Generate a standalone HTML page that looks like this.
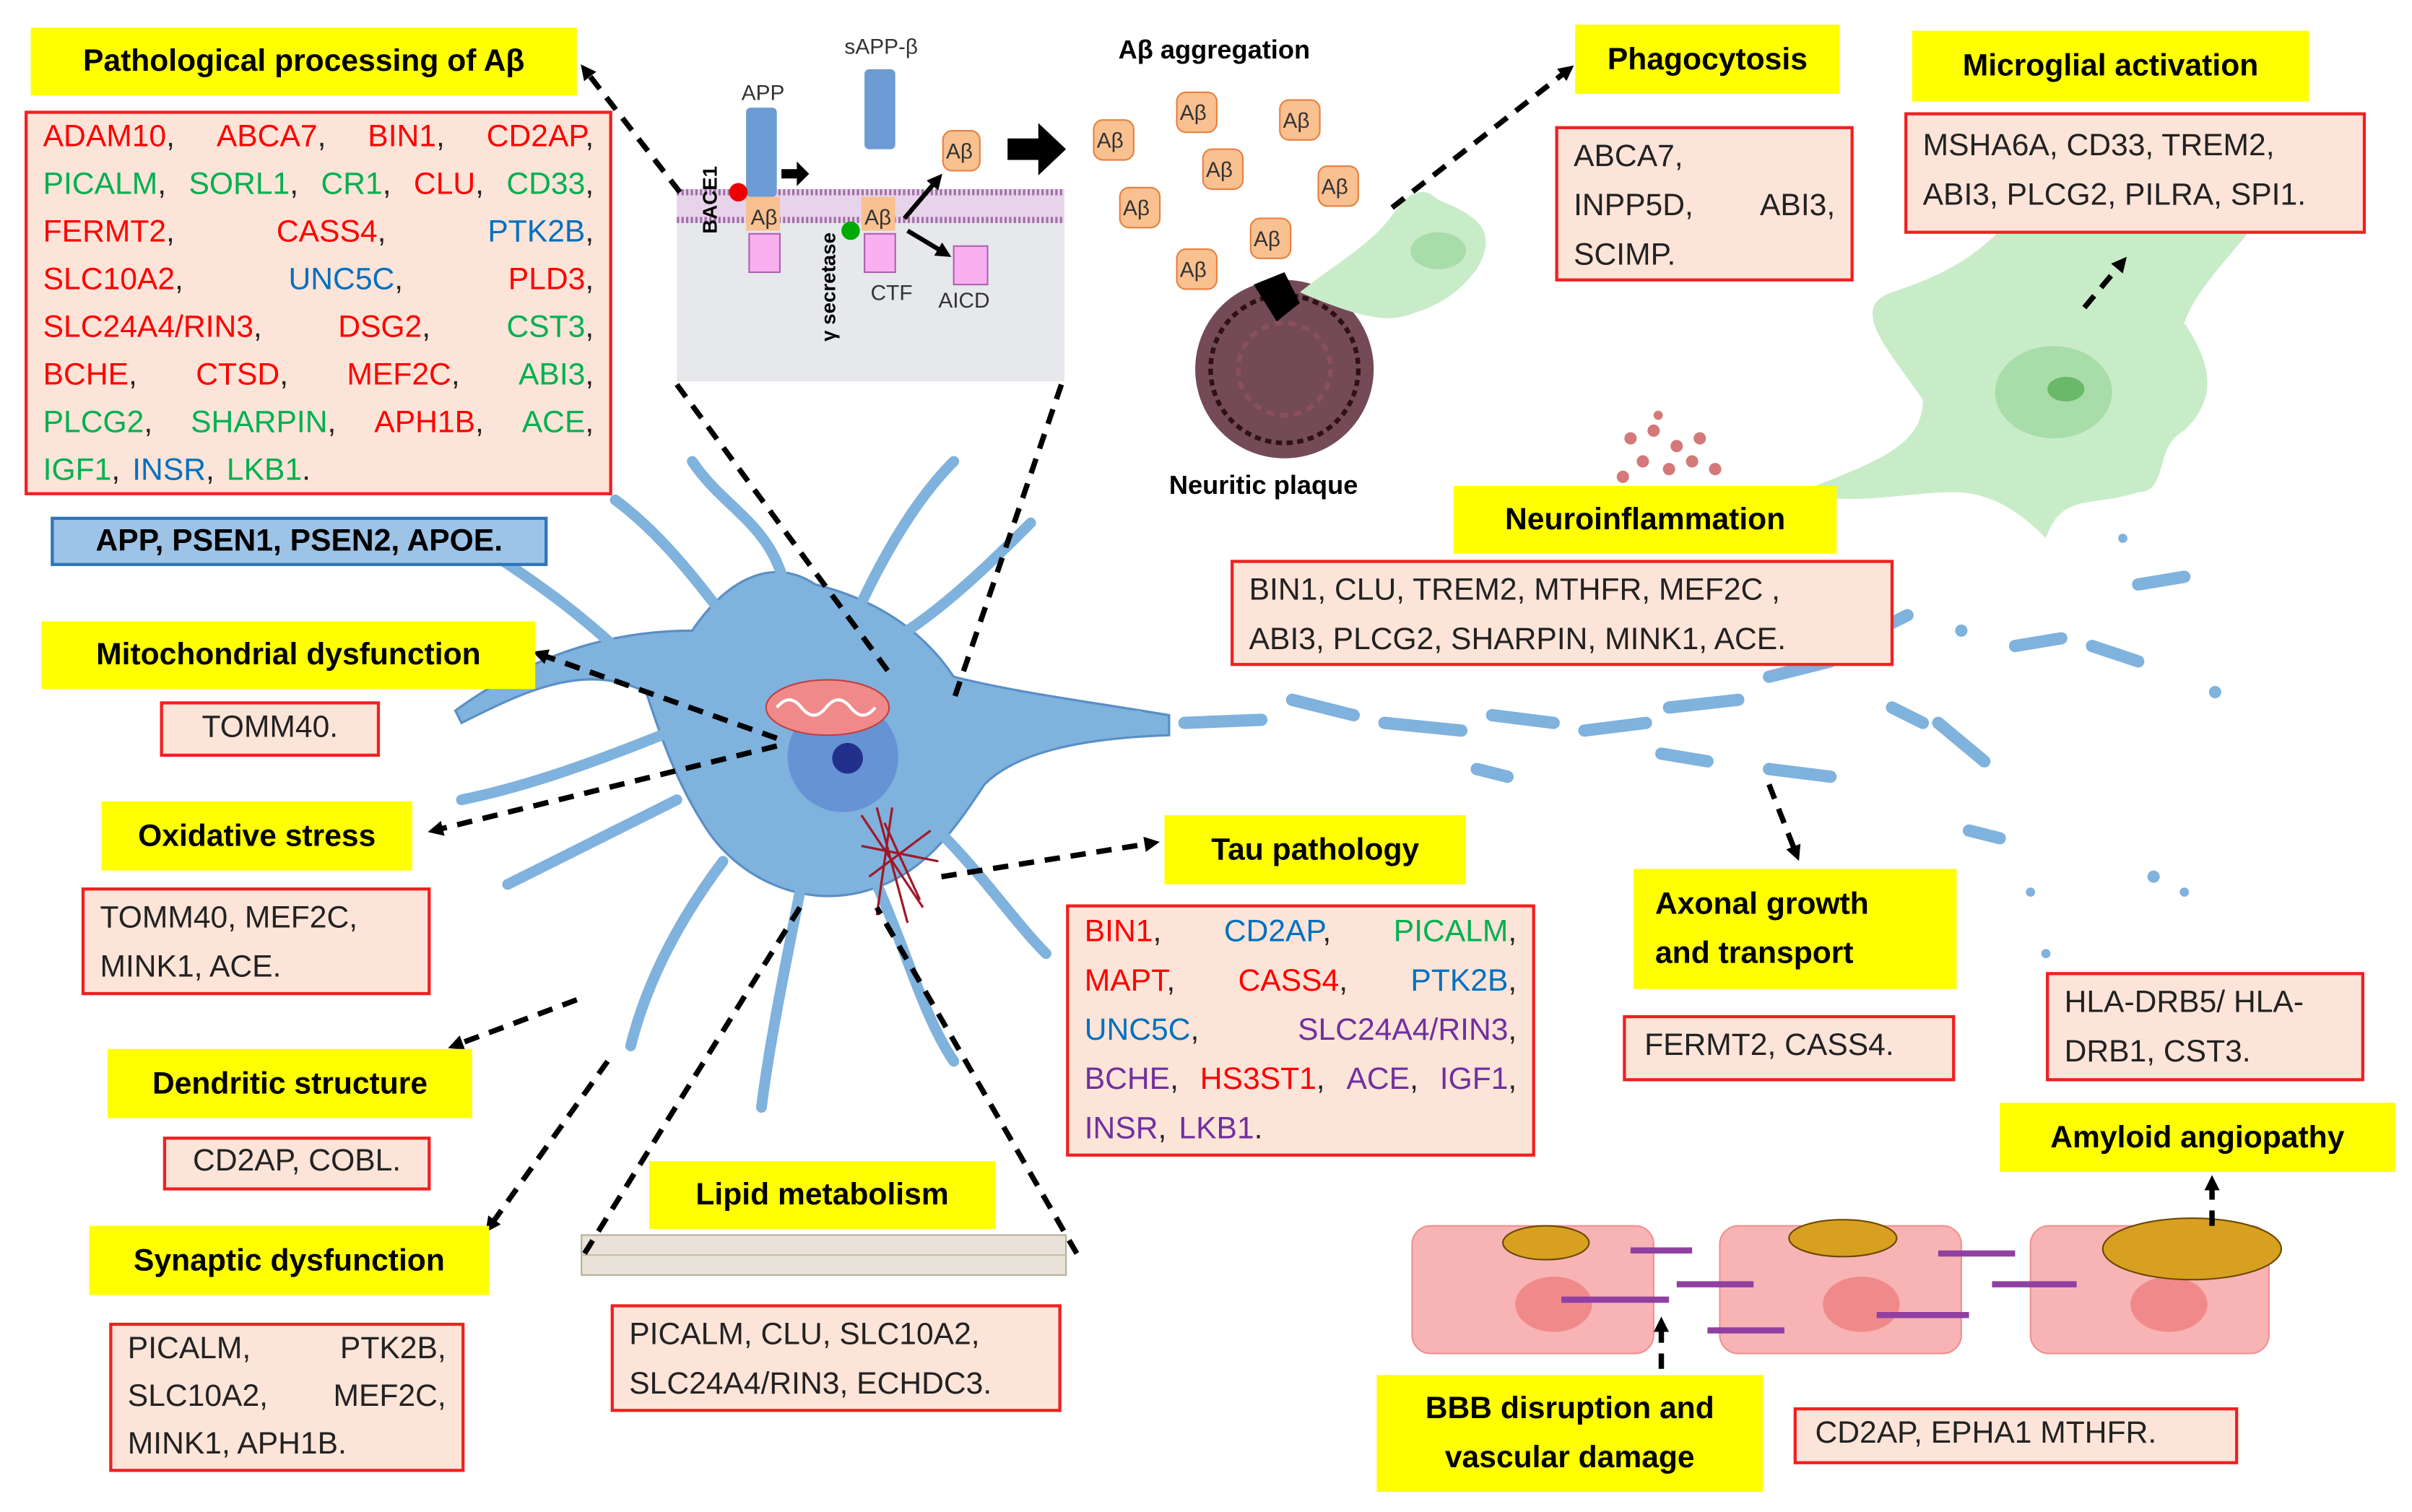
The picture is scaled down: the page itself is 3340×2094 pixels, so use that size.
<!DOCTYPE html>
<html><head><meta charset="utf-8">
<style>
html,body{margin:0;padding:0;background:#fff;}
body{width:3340px;height:2094px;overflow:hidden;position:relative;}
#w{position:absolute;left:0;top:0;width:1568px;height:983px;transform:scale(2.13010);transform-origin:0 0;font-family:"Liberation Sans",sans-serif;}
.y{position:absolute;background:#ffff00;font-weight:bold;font-size:20px;color:#000;display:flex;align-items:center;justify-content:center;text-align:center;line-height:32px;}
.b{position:absolute;background:#fde4d8;border:2px solid #f02020;box-sizing:border-box;font-size:20px;color:#222;padding:4px 10px;line-height:32px;}
.l{display:flex;justify-content:space-between;white-space:nowrap;}
.l.s{justify-content:flex-start;gap:8px;}
.r{color:#ff0000}.g{color:#00b050}.u{color:#0070c0}.p{color:#7030a0}
svg{position:absolute;left:0;top:0;}
</style></head><body><div id="w">
<svg width="1568" height="983" viewBox="0 0 1568 983">
<defs>
<marker id="a" markerWidth="10" markerHeight="10" refX="6" refY="5" orient="auto" markerUnits="userSpaceOnUse"><path d="M0,0 L10,5 L0,10 Z" fill="#000"/></marker>
</defs>
<rect x="440" y="125" width="252" height="123" fill="#e6e8ec"/>
<rect x="440" y="123" width="252" height="22" fill="#e8d4ea"/>
<line x1="440" y1="125" x2="692" y2="125" stroke="#a070a8" stroke-width="4" stroke-dasharray="1.5 1.5"/>
<line x1="440" y1="143" x2="692" y2="143" stroke="#a070a8" stroke-width="4" stroke-dasharray="1.5 1.5"/>
<rect x="485" y="70" width="20" height="58" fill="#6d9bd3" rx="3"/>
<rect x="562" y="45" width="20" height="52" fill="#6d9bd3" rx="3"/>
<rect x="485" y="128" width="22" height="22" fill="#f9c090"/>
<rect x="487" y="152" width="20" height="25" fill="#f9b0f0" stroke="#b060b0"/>
<rect x="560" y="128" width="22" height="22" fill="#f9c090"/>
<rect x="562" y="152" width="20" height="25" fill="#f9b0f0" stroke="#b060b0"/>
<rect x="620" y="160" width="22" height="25" fill="#f9b0f0" stroke="#b060b0"/>
<circle cx="480" cy="125" r="6" fill="#e00"/><circle cx="553" cy="150" r="6" fill="#0a0"/>
<path d="M508,110 h10 v-5 l8,8 l-8,8 v-5 h-10 z" fill="#000"/>
<line x1="588" y1="142" x2="610" y2="116" stroke="#000" stroke-width="3" marker-end="url(#a)"/>
<line x1="590" y1="150" x2="615" y2="165" stroke="#000" stroke-width="3" marker-end="url(#a)"/>
<path d="M655,90 h20 v-10 l18,17 l-18,17 v-10 h-20 z" fill="#000"/>
<text x="482" y="65" font-size="14" fill="#333">APP</text>
<text x="549" y="35" font-size="14" fill="#333">sAPP-β</text>
<text x="488" y="146" font-size="14" fill="#333">Aβ</text>
<text x="562" y="146" font-size="14" fill="#333">Aβ</text>
<text x="566" y="195" font-size="14" fill="#333">CTF</text>
<text x="610" y="200" font-size="14" fill="#333">AICD</text>
<text transform="translate(466,152) rotate(-90)" font-size="13" font-weight="bold">BACE1</text>
<text transform="translate(543,222) rotate(-90)" font-size="13" font-weight="bold">γ secretase</text>
<text x="727" y="38" font-size="17" font-weight="bold">Aβ aggregation</text>
<g font-size="14" fill="#333">
<g><rect x="613" y="85" width="24" height="26" rx="6" fill="#f9c090" stroke="#e88040"/><text x="615" y="103">Aβ</text></g>
<g><rect x="711" y="78" width="26" height="26" rx="6" fill="#f9c090" stroke="#e88040"/><text x="713" y="96">Aβ</text></g>
<g><rect x="765" y="60" width="26" height="26" rx="6" fill="#f9c090" stroke="#e88040"/><text x="767" y="78">Aβ</text></g>
<g><rect x="832" y="65" width="26" height="26" rx="6" fill="#f9c090" stroke="#e88040"/><text x="834" y="83">Aβ</text></g>
<g><rect x="782" y="97" width="26" height="26" rx="6" fill="#f9c090" stroke="#e88040"/><text x="784" y="115">Aβ</text></g>
<g><rect x="857" y="108" width="26" height="26" rx="6" fill="#f9c090" stroke="#e88040"/><text x="859" y="126">Aβ</text></g>
<g><rect x="728" y="122" width="26" height="26" rx="6" fill="#f9c090" stroke="#e88040"/><text x="730" y="140">Aβ</text></g>
<g><rect x="813" y="142" width="26" height="26" rx="6" fill="#f9c090" stroke="#e88040"/><text x="815" y="160">Aβ</text></g>
<g><rect x="765" y="162" width="26" height="26" rx="6" fill="#f9c090" stroke="#e88040"/><text x="767" y="180">Aβ</text></g>
</g>
<circle cx="835" cy="240" r="58" fill="#5a2a38" opacity="0.85"/>
<circle cx="835" cy="240" r="48" fill="none" stroke="#2e1018" stroke-width="3" stroke-dasharray="4 3"/>
<circle cx="835" cy="240" r="30" fill="none" stroke="#8a5060" stroke-width="3" stroke-dasharray="5 4"/>
<path d="M815,185 l20,-8 l10,20 l-15,12 z" fill="#000"/>
<text x="760" y="321" font-size="17" font-weight="bold">Neuritic plaque</text>
<path d="M845,190 C870,170 890,160 905,140 C915,125 925,120 935,130 C960,140 975,150 960,175 C945,195 930,200 915,205 C900,210 880,205 845,190 Z" fill="#c8ecc8"/>
<ellipse cx="935" cy="163" rx="18" ry="12" fill="#a8dca8"/>
<path d="M1170,320 C1220,300 1250,290 1250,260 C1230,230 1200,200 1230,190 C1260,180 1280,170 1300,150 C1320,140 1360,150 1400,140 C1430,130 1460,120 1490,110 C1470,150 1430,180 1420,210 C1440,240 1440,260 1420,280 C1400,290 1410,320 1390,320 C1360,330 1340,320 1330,350 C1320,340 1300,320 1270,320 C1240,320 1200,330 1170,320 Z" fill="#c8ecc8"/>
<ellipse cx="1335" cy="255" rx="38" ry="30" fill="#a8dca8"/>
<ellipse cx="1343" cy="253" rx="12" ry="8" fill="#6ab86a"/>
<g fill="#c04040" opacity="0.7"><circle cx="1060" cy="285" r="4"/><circle cx="1075" cy="280" r="4"/><circle cx="1090" cy="290" r="4"/><circle cx="1105" cy="285" r="4"/><circle cx="1068" cy="300" r="4"/><circle cx="1085" cy="305" r="4"/><circle cx="1100" cy="300" r="4"/><circle cx="1115" cy="305" r="4"/><circle cx="1055" cy="310" r="4"/><circle cx="1078" cy="270" r="3"/></g>
<g fill="#7fb2dd" stroke="#5a8fc6" stroke-width="1.5">
<path d="M450,410 C470,380 500,360 530,380 C570,390 600,410 620,440 C660,450 700,455 760,465 L760,478 C700,480 660,490 640,510 C620,540 600,570 560,580 C520,590 480,570 460,540 C440,510 430,480 420,450 C380,430 340,450 300,470 L296,462 C340,430 390,410 450,410 Z"/>
</g>
<g stroke="#7fb2dd" stroke-width="7" fill="none" stroke-linecap="round">
<path d="M470,400 C440,360 420,340 400,325"/><path d="M510,380 C500,340 470,330 450,300"/><path d="M560,392 C580,350 600,320 620,300"/>
<path d="M590,410 C620,390 650,360 670,340"/><path d="M470,560 C440,600 420,640 410,680"/><path d="M520,580 C510,630 500,680 495,720"/>
<path d="M570,575 C590,620 600,660 620,690"/><path d="M610,540 C640,570 660,600 680,620"/><path d="M440,520 C400,540 360,560 330,575"/>
<path d="M450,470 C400,490 350,510 300,520"/><path d="M420,440 C380,400 350,380 320,360"/>
</g>
<circle cx="548" cy="492" r="36" fill="#5a86d0" opacity="0.7"/>
<circle cx="551" cy="493" r="10" fill="#22308c"/>
<ellipse cx="538" cy="460" rx="40" ry="18" fill="#f08a8a" stroke="#c04040"/>
<path d="M505,460 q8,-10 16,0 q8,10 16,0 q8,-10 16,0 q8,10 16,0" stroke="#fff" stroke-width="2" fill="none"/>
<g stroke="#a01828" stroke-width="1.5"><path d="M560,530 L600,590 M570,525 L590,600 M580,525 L570,595 M560,550 L610,560 M565,570 L605,540 M575,535 L598,585"/></g>
<g stroke="#7fb2dd" stroke-width="8" stroke-linecap="round">
<line x1="700" y1="468" x2="740" y2="466"/><line x1="770" y1="470" x2="820" y2="468"/><line x1="840" y1="455" x2="880" y2="465"/><line x1="900" y1="470" x2="950" y2="475"/><line x1="970" y1="465" x2="1010" y2="470"/><line x1="1030" y1="475" x2="1070" y2="470"/><line x1="1085" y1="460" x2="1130" y2="455"/><line x1="1150" y1="440" x2="1190" y2="430"/><line x1="1150" y1="500" x2="1190" y2="505"/><line x1="1080" y1="490" x2="1110" y2="495"/><line x1="1200" y1="420" x2="1240" y2="400"/><line x1="1260" y1="470" x2="1290" y2="495"/><line x1="1310" y1="420" x2="1340" y2="415"/><line x1="1360" y1="420" x2="1390" y2="430"/><line x1="1390" y1="380" x2="1420" y2="375"/><line x1="1280" y1="540" x2="1300" y2="545"/><line x1="1230" y1="460" x2="1250" y2="470"/><line x1="820" y1="420" x2="850" y2="415"/><line x1="960" y1="500" x2="980" y2="505"/>
</g>
<g fill="#7fb2dd"><circle cx="1275" cy="410" r="4"/><circle cx="1330" cy="620" r="3"/><circle cx="1320" cy="580" r="3"/><circle cx="1400" cy="570" r="4"/><circle cx="1420" cy="580" r="3"/><circle cx="1440" cy="450" r="4"/><circle cx="1380" cy="350" r="3"/></g>
<rect x="378" y="803" width="315" height="26" fill="#e8e2d8" stroke="#b8ae9a"/>
<line x1="378" y1="816" x2="693" y2="816" stroke="#c8bea8"/>
<g fill="#f8b4b4" stroke="#f09090"><rect x="918" y="797" width="157" height="83" rx="12"/><rect x="1118" y="797" width="157" height="83" rx="12"/><rect x="1320" y="797" width="155" height="83" rx="12"/></g>
<g fill="#f08a8a"><ellipse cx="1010" cy="848" rx="25" ry="18"/><ellipse cx="1210" cy="848" rx="25" ry="18"/><ellipse cx="1410" cy="848" rx="25" ry="18"/></g>
<g stroke="#9040a0" stroke-width="4"><line x1="1060" y1="813" x2="1100" y2="813"/><line x1="1015" y1="845" x2="1085" y2="845"/><line x1="1090" y1="835" x2="1140" y2="835"/><line x1="1110" y1="865" x2="1160" y2="865"/><line x1="1260" y1="815" x2="1310" y2="815"/><line x1="1220" y1="855" x2="1280" y2="855"/><line x1="1295" y1="835" x2="1350" y2="835"/></g>
<g fill="#d8a020" stroke="#6a4a00"><ellipse cx="1005" cy="808" rx="28" ry="11"/><ellipse cx="1198" cy="805" rx="35" ry="12"/><ellipse cx="1425" cy="812" rx="58" ry="20"/></g>
<g stroke="#000" stroke-width="3.5" stroke-dasharray="10 7" fill="none">
<line x1="442" y1="125" x2="380" y2="45" marker-end="url(#a)"/>
<line x1="905" y1="135" x2="1020" y2="45" marker-end="url(#a)"/>
<line x1="1355" y1="200" x2="1380" y2="170" marker-end="url(#a)"/>
<line x1="505" y1="480" x2="350" y2="425" marker-end="url(#a)"/>
<line x1="505" y1="485" x2="282" y2="540" marker-end="url(#a)"/>
<line x1="375" y1="650" x2="295" y2="680" marker-end="url(#a)"/>
<line x1="395" y1="690" x2="318" y2="798" marker-end="url(#a)"/>
<line x1="612" y1="570" x2="750" y2="548" marker-end="url(#a)"/>
<line x1="1150" y1="510" x2="1168" y2="556" marker-end="url(#a)"/>
<line x1="1080" y1="890" x2="1080" y2="860" marker-end="url(#a)"/>
<line x1="1438" y1="797" x2="1438" y2="768" marker-end="url(#a)"/>
<line x1="440" y1="250" x2="580" y2="440"/>
<line x1="690" y1="250" x2="620" y2="455"/>
<line x1="380" y1="815" x2="520" y2="590"/>
<line x1="700" y1="815" x2="570" y2="590"/>
</g>
</svg>

<div class="y" style="left:20px;top:18px;width:355px;height:44px;">Pathological processing of Aβ</div>
<div class="b" style="left:16px;top:72px;width:382px;height:250px;line-height:31px;padding:0 10px;">
<div class="l"><span><span class="r">ADAM10</span>,</span><span><span class="r">ABCA7</span>,</span><span><span class="r">BIN1</span>,</span><span><span class="r">CD2AP</span>,</span></div>
<div class="l"><span><span class="g">PICALM</span>,</span><span><span class="g">SORL1</span>,</span><span><span class="g">CR1</span>,</span><span><span class="r">CLU</span>,</span><span><span class="g">CD33</span>,</span></div>
<div class="l"><span><span class="r">FERMT2</span>,</span><span><span class="r">CASS4</span>,</span><span><span class="u">PTK2B</span>,</span></div>
<div class="l"><span><span class="r">SLC10A2</span>,</span><span><span class="u">UNC5C</span>,</span><span><span class="r">PLD3</span>,</span></div>
<div class="l"><span><span class="r">SLC24A4/RIN3</span>,</span><span><span class="r">DSG2</span>,</span><span><span class="g">CST3</span>,</span></div>
<div class="l"><span><span class="r">BCHE</span>,</span><span><span class="r">CTSD</span>,</span><span><span class="r">MEF2C</span>,</span><span><span class="g">ABI3</span>,</span></div>
<div class="l"><span><span class="g">PLCG2</span>,</span><span><span class="g">SHARPIN</span>,</span><span><span class="r">APH1B</span>,</span><span><span class="g">ACE</span>,</span></div>
<div class="l s"><span><span class="g">IGF1</span>,</span><span><span class="u">INSR</span>,</span><span><span class="g">LKB1</span>.</span></div>
</div>
<div style="position:absolute;left:33px;top:336px;width:323px;height:32px;background:#9dc3e6;border:2px solid #2e75b6;box-sizing:border-box;font-weight:bold;font-size:20px;line-height:28px;text-align:center;">APP, PSEN1, PSEN2, APOE.</div>

<div class="y" style="left:27px;top:404px;width:321px;height:44px;">Mitochondrial dysfunction</div>
<div class="b" style="left:104px;top:456px;width:143px;height:36px;line-height:26px;text-align:center;padding:2px;">TOMM40.</div>

<div class="y" style="left:66px;top:521px;width:202px;height:45px;">Oxidative stress</div>
<div class="b" style="left:53px;top:577px;width:227px;height:70px;padding:2px 10px;">TOMM40, MEF2C,<br>MINK1, ACE.</div>

<div class="y" style="left:70px;top:682px;width:237px;height:45px;">Dendritic structure</div>
<div class="b" style="left:106px;top:739px;width:174px;height:35px;line-height:25px;text-align:center;padding:2px;">CD2AP, COBL.</div>

<div class="y" style="left:58px;top:797px;width:260px;height:45px;">Synaptic dysfunction</div>
<div class="b" style="left:71px;top:860px;width:231px;height:97px;padding:0 10px;line-height:31px;">
<div class="l"><span>PICALM,</span><span>PTK2B,</span></div>
<div class="l"><span>SLC10A2,</span><span>MEF2C,</span></div>
<div>MINK1, APH1B.</div></div>

<div class="y" style="left:422px;top:755px;width:225px;height:44px;">Lipid metabolism</div>
<div class="b" style="left:397px;top:848px;width:293px;height:70px;padding:2px 10px;">PICALM, CLU, SLC10A2,<br>SLC24A4/RIN3, ECHDC3.</div>

<div class="y" style="left:757px;top:530px;width:196px;height:45px;">Tau pathology</div>
<div class="b" style="left:693px;top:588px;width:305px;height:164px;padding:0 10px;">
<div class="l"><span><span class="r">BIN1</span>,</span><span><span class="u">CD2AP</span>,</span><span><span class="g">PICALM</span>,</span></div>
<div class="l"><span><span class="r">MAPT</span>,</span><span><span class="r">CASS4</span>,</span><span><span class="u">PTK2B</span>,</span></div>
<div class="l"><span><span class="u">UNC5C</span>,</span><span><span class="p">SLC24A4/RIN3</span>,</span></div>
<div class="l"><span><span class="p">BCHE</span>,</span><span><span class="r">HS3ST1</span>,</span><span><span class="p">ACE</span>,</span><span><span class="p">IGF1</span>,</span></div>
<div class="l s"><span><span class="p">INSR</span>,</span><span><span class="p">LKB1</span>.</span></div></div>

<div class="y" style="left:1062px;top:565px;width:210px;height:78px;justify-content:flex-start;text-align:left;padding-left:14px;box-sizing:border-box;">Axonal growth<br>and transport</div>
<div class="b" style="left:1055px;top:660px;width:216px;height:43px;line-height:32px;padding:2px 12px;">FERMT2, CASS4.</div>

<div class="y" style="left:945px;top:316px;width:249px;height:44px;">Neuroinflammation</div>
<div class="b" style="left:800px;top:364px;width:431px;height:69px;padding:2px 10px;">BIN1, CLU, TREM2, MTHFR, MEF2C ,<br>ABI3, PLCG2, SHARPIN, MINK1, ACE.</div>

<div class="y" style="left:1024px;top:16px;width:172px;height:45px;">Phagocytosis</div>
<div class="b" style="left:1011px;top:82px;width:194px;height:101px;padding:2px 10px;">ABCA7,<br><div class="l"><span>INPP5D,</span><span>ABI3,</span></div>SCIMP.</div>

<div class="y" style="left:1243px;top:20px;width:258px;height:46px;">Microglial activation</div>
<div class="b" style="left:1238px;top:73px;width:300px;height:79px;">MSHA6A, CD33, TREM2,<br>ABI3, PLCG2, PILRA, SPI1.</div>

<div class="b" style="left:1330px;top:632px;width:207px;height:71px;padding:2px 10px;">HLA-DRB5/ HLA-<br>DRB1, CST3.</div>
<div class="y" style="left:1300px;top:717px;width:257px;height:45px;">Amyloid angiopathy</div>

<div class="y" style="left:895px;top:894px;width:251px;height:76px;">BBB disruption and<br>vascular damage</div>
<div class="b" style="left:1166px;top:915px;width:289px;height:37px;line-height:27px;padding:2px 12px;">CD2AP, EPHA1 MTHFR.</div>
</div></body></html>
